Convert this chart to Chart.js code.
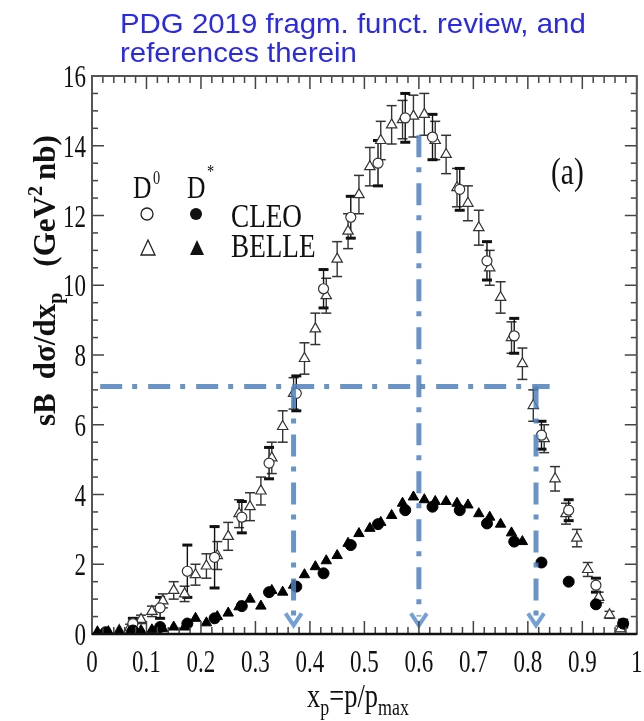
<!DOCTYPE html>
<html>
<head>
<meta charset="utf-8">
<script src="https://cdn.jsdelivr.net/npm/chart.js@4.4.1/dist/chart.umd.min.js"></script>
<style>
  html, body { margin: 0; padding: 0; background: #fff; }
  #wrap { width: 644px; height: 721px; }
</style>
</head>
<body>
<div id="wrap"><canvas id="fragChart" width="644" height="721"></canvas></div>
<script>
// ─── DATA ─────────────────────────────────────────────────────────
// BELLE bins (0.02 wide)
const xBelle = [0.01, 0.03, 0.05, 0.07, 0.09, 0.11, 0.13, 0.15, 0.17, 0.19,
  0.21, 0.23, 0.25, 0.27, 0.29, 0.31, 0.33, 0.35, 0.37, 0.39,
  0.41, 0.43, 0.45, 0.47, 0.49, 0.51, 0.53, 0.55, 0.57, 0.59,
  0.61, 0.63, 0.65, 0.67, 0.69, 0.71, 0.73, 0.75, 0.77, 0.79,
  0.81, 0.83, 0.85, 0.87, 0.89, 0.91, 0.93, 0.95, 0.97];
const belleD0 = [0.05, 0.06, 0.1, 0.2, 0.42, 0.65, 0.95, 1.25, 1.15, 1.7,
  1.95, 2.25, 2.8, 3.45, 3.65, 4.1, 5.05, 5.95, 6.9, 7.9,
  8.75, 9.7, 10.75, 11.55, 12.6, 13.4, 14.15, 14.6, 14.75, 14.85,
  14.9, 14.15, 13.75, 12.8, 12.35, 11.65, 10.5, 9.65, 8.5, 7.75,
  6.55, 5.6, 4.45, 3.45, 2.75, 1.85, 1.05, 0.55, 0.15];
const belleD0Err = [0.05, 0.05, 0.05, 0.08, 0.12, 0.15, 0.2, 0.25, 0.22, 0.3,
  0.35, 0.4, 0.4, 0.4, 0.4, 0.4, 0.45, 0.45, 0.45, 0.45,
  0.45, 0.5, 0.5, 0.5, 0.55, 0.55, 0.55, 0.55, 0.55, 0.6,
  0.6, 0.55, 0.55, 0.55, 0.5, 0.5, 0.5, 0.45, 0.45, 0.45,
  0.45, 0.4, 0.35, 0.3, 0.25, 0.2, 0.15, 0.1, 0.08];
const xBelleStar = xBelle.slice(0, 40);
const belleDstar = [0.05, 0.05, 0.07, 0.07, 0.1, 0.12, 0.15, 0.2, 0.2, 0.45,
  0.32, 0.5, 0.6, 0.78, 1.0, 0.8, 1.25, 1.2, 1.4, 1.7,
  1.93, 2.1, 2.25, 2.6, 2.88, 3.03, 3.2, 3.4, 3.75, 3.93,
  3.85, 3.8, 3.8, 3.75, 3.7, 3.45, 3.35, 3.15, 2.9, 2.65];

// CLEO bins (0.05 wide)
const xCleo = [0.025, 0.075, 0.125, 0.175, 0.225, 0.275, 0.325, 0.375, 0.425, 0.475,
  0.525, 0.575, 0.625, 0.675, 0.725, 0.775, 0.825, 0.875, 0.925, 0.975];
const cleoD0 = [0.05, 0.3, 0.75, 1.8, 2.2, 3.35, 4.9, 6.9, 9.9, 11.95,
  13.5, 14.8, 14.25, 12.75, 10.7, 8.55, 5.7, 3.55, 1.4, 0.3];
const cleoD0Err = [0.05, 0.15, 0.3, 0.75, 0.88, 0.45, 0.45, 0.5, 0.55, 0.6,
  0.65, 0.7, 0.65, 0.6, 0.55, 0.5, 0.4, 0.3, 0.2, 0.1];
const cleoDstar = [0.05, 0.1, 0.2, 0.3, 0.45, 0.8, 1.2, 1.36, 1.74, 2.55,
  3.15, 3.55, 3.65, 3.55, 3.17, 2.65, 2.05, 1.5, 0.85, 0.3];

// axis tick labels
const xTickLabels = ["0", "0.1", "0.2", "0.3", "0.4", "0.5", "0.6", "0.7", "0.8", "0.9", "1"];
const yTickLabels = ["0", "2", "4", "6", "8", "10", "12", "14", "16"];

// dash-dot guides: level line and the three drops to the x axis
const guideLevel = 7.1;
const guideSpan = [0.015, 0.84];
const guideX = [0.37, 0.6, 0.815];
const guideTop = [7.1, 14.3, 7.1];
const guideEnd = 0.5;

const GUIDE_COLOR = "rgba(79,129,189,0.85)";
const SERIF = '"Liberation Serif", "DejaVu Serif", serif';

const toPoints = (xs, ys) => xs.map((x, i) => ({ x, y: ys[i] }));

// ─── HELPERS ──────────────────────────────────────────────────────
function squishText(ctx, text, x, y, align, sx) {
  ctx.save();
  ctx.translate(x, y);
  ctx.scale(sx, 1);
  ctx.textAlign = align;
  ctx.fillText(text, 0, 0);
  ctx.restore();
}

function line(ctx, x1, y1, x2, y2) {
  ctx.beginPath();
  ctx.moveTo(x1, y1);
  ctx.lineTo(x2, y2);
  ctx.stroke();
}

// ─── ERROR BARS ───────────────────────────────────────────────────
const errorBars = {
  id: "errorBars",
  beforeDatasetsDraw(chart) {
    const { ctx, scales: { x, y } } = chart;
    const sets = [
      { xs: xBelle, ys: belleD0, errs: belleD0Err, color: "#333", cap: 1.5 },
      { xs: xCleo, ys: cleoD0, errs: cleoD0Err, color: "#111", cap: 3 },
    ];
    ctx.save();
    sets.forEach((s) => {
      ctx.strokeStyle = s.color;
      s.xs.forEach((xv, i) => {
        const px = x.getPixelForValue(xv);
        const top = y.getPixelForValue(s.ys[i] + s.errs[i]);
        const bot = y.getPixelForValue(Math.max(0, s.ys[i] - s.errs[i]));
        if (bot - top < 4) return;
        ctx.lineWidth = 1.4;
        line(ctx, px, top, px, bot);
        ctx.lineWidth = s.cap;
        line(ctx, px - 5, top, px + 5, top);
        line(ctx, px - 5, bot, px + 5, bot);
      });
    });
    ctx.restore();
  },
};

// ─── ARROW HEADS ON THE DROP LINES ────────────────────────────────
const guideArrows = {
  id: "guideArrows",
  afterDatasetsDraw(chart) {
    const { ctx, scales: { x, y } } = chart;
    ctx.save();
    ctx.strokeStyle = "rgba(100,150,210,0.9)";
    ctx.lineWidth = 4;
    ctx.lineJoin = "miter";
    guideX.forEach((gx) => {
      const px = x.getPixelForValue(gx);
      const py = y.getPixelForValue(0.25);
      ctx.beginPath();
      ctx.moveTo(px - 8, py - 12);
      ctx.lineTo(px, py);
      ctx.lineTo(px + 8, py - 12);
      ctx.stroke();
    });
    ctx.restore();
  },
};

// ─── FRAME, TICKS, LABELS, LEGEND ─────────────────────────────────
const axisFrame = {
  id: "axisFrame",
  afterDraw(chart) {
    const { ctx, chartArea: a, scales: { x, y } } = chart;
    ctx.save();

    // ticks pointing inwards on all four sides
    ctx.strokeStyle = "#444";
    ctx.lineWidth = 1.5;
    for (let i = 0; i <= 50; i++) {
      const px = x.getPixelForValue(i / 50);
      const len = i % 5 === 0 ? 13 : 7;
      line(ctx, px, a.bottom, px, a.bottom - len);
      line(ctx, px, a.top, px, a.top + len);
    }
    for (let i = 0; i <= 32; i++) {
      const py = y.getPixelForValue(i * 0.5);
      const len = i % 4 === 0 ? 12 : 6;
      line(ctx, a.left, py, a.left + len, py);
      line(ctx, a.right, py, a.right - len, py);
    }

    ctx.strokeStyle = "#555";
    ctx.lineWidth = 2;
    ctx.strokeRect(a.left, a.top, a.right - a.left, a.bottom - a.top);
    ctx.strokeStyle = "#111";
    ctx.lineWidth = 2.5;
    line(ctx, a.left, a.bottom, a.right, a.bottom);

    // tick labels
    ctx.fillStyle = "#111";
    ctx.font = `32px ${SERIF}`;
    ctx.textBaseline = "alphabetic";
    xTickLabels.forEach((t) => {
      squishText(ctx, t, x.getPixelForValue(parseFloat(t)), a.bottom + 38, "center", 0.72);
    });
    yTickLabels.forEach((t) => {
      squishText(ctx, t, a.left - 6, y.getPixelForValue(parseFloat(t)) + 11, "right", 0.72);
    });

    // x axis title: x_p = p/p_max
    let cx = 307;
    const by = 707;
    const put = (txt, size, dy) => {
      ctx.font = `${size}px ${SERIF}`;
      squishText(ctx, txt, cx, by + dy, "left", 0.78);
      cx += ctx.measureText(txt).width * 0.78;
    };
    put("x", 34, 0);
    put("p", 23, 8);
    put("=p/p", 34, 0);
    put("max", 23, 8);

    // y axis title, rotated
    ctx.save();
    ctx.translate(55, 426);
    ctx.rotate(-Math.PI / 2);
    let ty = 0;
    const putY = (txt, size, dy, gap) => {
      ctx.font = `bold ${size}px ${SERIF}`;
      ctx.textAlign = "left";
      ctx.fillText(txt, ty, dy);
      ty += ctx.measureText(txt).width + (gap || 0);
    };
    putY("sB", 31, 0, 14);
    putY("d\u03c3/dx", 31, 0);
    putY("p", 20, 7, 26);
    putY("(GeV", 31, 0);
    putY("2", 20, -13, 6);
    putY("nb)", 31, 0);
    ctx.restore();

    // panel tag
    ctx.font = `37px ${SERIF}`;
    squishText(ctx, "(a)", 551, 184, "left", 0.8);

    // legend
    ctx.font = `32px ${SERIF}`;
    squishText(ctx, "D", 133, 198, "left", 0.8);
    squishText(ctx, "D", 187, 198, "left", 0.8);
    ctx.font = `18px ${SERIF}`;
    squishText(ctx, "0", 153, 184, "left", 0.8);
    squishText(ctx, "*", 207, 178, "left", 0.8);
    ctx.font = `34px ${SERIF}`;
    squishText(ctx, "CLEO", 231, 227, "left", 0.8);
    squishText(ctx, "BELLE", 231, 257, "left", 0.8);

    ctx.lineWidth = 1.3;
    ctx.strokeStyle = "#222";
    ctx.fillStyle = "#111";
    ctx.beginPath();
    ctx.arc(147, 214, 6, 0, Math.PI * 2);
    ctx.stroke();
    ctx.beginPath();
    ctx.arc(196, 214, 6, 0, Math.PI * 2);
    ctx.fill();
    const tri = (tx, tyy, fill) => {
      ctx.beginPath();
      ctx.moveTo(tx, tyy - 9);
      ctx.lineTo(tx + 7, tyy + 6);
      ctx.lineTo(tx - 7, tyy + 6);
      ctx.closePath();
      fill ? ctx.fill() : ctx.stroke();
    };
    tri(148, 249, false);
    tri(197, 249, true);

    // heading
    ctx.fillStyle = "#2a2ae6";
    ctx.font = '28px "Liberation Sans", Arial, sans-serif';
    squishText(ctx, "PDG 2019 fragm. funct. review, and", 120, 33, "left", 1.05);
    squishText(ctx, "references therein", 120, 62, "left", 1.05);

    ctx.restore();
  },
};

// ─── CHART ────────────────────────────────────────────────────────
const guideStyle = {
  type: "line",
  borderColor: GUIDE_COLOR,
  borderWidth: 5,
  borderDash: [22, 10, 5, 11],
  pointRadius: 0,
  fill: false,
  order: 0,
};

new Chart(document.getElementById("fragChart"), {
  type: "scatter",
  data: {
    datasets: [
      {
        label: "BELLE D0",
        data: toPoints(xBelle, belleD0),
        pointStyle: "triangle",
        pointRadius: 6,
        backgroundColor: "#fff",
        borderColor: "#333",
        borderWidth: 1.2,
        order: 4,
      },
      {
        label: "CLEO D0",
        data: toPoints(xCleo, cleoD0),
        pointStyle: "circle",
        pointRadius: 5,
        backgroundColor: "#fff",
        borderColor: "#333",
        borderWidth: 1.2,
        order: 3,
      },
      {
        label: "BELLE D*",
        data: toPoints(xBelleStar, belleDstar),
        pointStyle: "triangle",
        pointRadius: 6,
        backgroundColor: "#000",
        borderColor: "#000",
        borderWidth: 1,
        order: 2,
      },
      {
        label: "CLEO D*",
        data: toPoints(xCleo, cleoDstar),
        pointStyle: "circle",
        pointRadius: 5.5,
        backgroundColor: "#000",
        borderColor: "#000",
        borderWidth: 1,
        order: 1,
      },
      {
        ...guideStyle,
        label: "level",
        data: guideSpan.map((gx) => ({ x: gx, y: guideLevel })),
      },
      ...guideX.map((gx, i) => ({
        ...guideStyle,
        label: "drop " + i,
        data: [{ x: gx, y: guideTop[i] }, { x: gx, y: guideEnd }],
      })),
    ],
  },
  options: {
    responsive: false,
    animation: false,
    layout: { padding: { left: 92, right: 3, top: 76, bottom: 87 } },
    plugins: { legend: { display: false }, tooltip: { enabled: false } },
    scales: {
      x: { type: "linear", min: 0, max: 1, display: false },
      y: { type: "linear", min: 0, max: 16, display: false },
    },
  },
  plugins: [errorBars, guideArrows, axisFrame],
});
</script>
</body>
</html>
